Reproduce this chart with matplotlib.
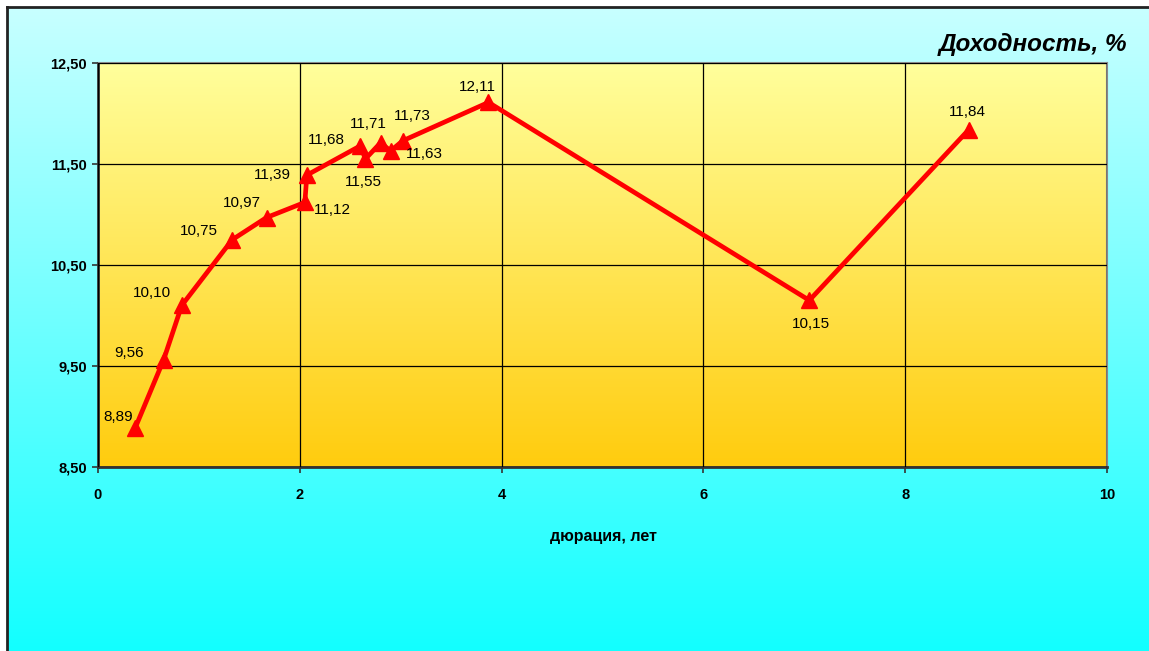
import numpy as np
import matplotlib
matplotlib.use("Agg")
import matplotlib.pyplot as plt
from matplotlib.ticker import FuncFormatter
from matplotlib.colors import LinearSegmentedColormap

# duration (years) and yield (%)
duration = [0.37, 0.65, 0.83, 1.33, 1.67, 2.05, 2.07, 2.60, 2.65, 2.80, 2.90, 3.02, 3.87, 7.05, 8.63]
yld = [8.89, 9.56, 10.10, 10.75, 10.97, 11.12, 11.39, 11.68, 11.55, 11.71, 11.63, 11.73, 12.11, 10.15, 11.84]
# label offsets in pixels (dx, dy) as placed on the original
label_off = [(-17, 11), (-35, 7), (-30, 12), (-33, 9), (-25, 15), (28, -8), (-34, 0),
             (-34, 6), (-2, -23), (-12, 19), (34, -3), (10, 25), (-11, 15), (2, -24), (-1, 18)]

plt.rcParams["font.family"] = ["Liberation Sans", "DejaVu Sans"]

W, H = 1149, 651
fig = plt.figure(figsize=(W / 100, H / 100), dpi=100)
fig.patch.set_facecolor("white")

# figure background gradient (light cyan -> cyan)
bg = fig.add_axes([7 / W, 0, 1 - 7 / W, 1 - 7 / H], zorder=-10)
cm_bg = LinearSegmentedColormap.from_list("bg", ["#c8ffff", "#12ffff"])
bg.imshow(np.linspace(0, 1, 256).reshape(-1, 1), aspect="auto", cmap=cm_bg,
          extent=[0, 1, 0, 1], origin="upper")
bg.set_xlim(0, 1)
bg.set_ylim(0, 1)
for s in ["right", "bottom"]:
    bg.spines[s].set_visible(False)
for s in ["left", "top"]:
    bg.spines[s].set_linewidth(2)
    bg.spines[s].set_color("#222222")
bg.set_xticks([])
bg.set_yticks([])

ax = fig.add_axes([98 / W, 1 - 467 / H, (1107 - 98) / W, (467 - 63) / H])
cm_ax = LinearSegmentedColormap.from_list("ax", ["#ffff9c", "#ffcc0e"])
ax.imshow(np.linspace(0, 1, 256).reshape(-1, 1), aspect="auto", cmap=cm_ax,
          extent=[0, 10, 8.5, 12.5], origin="upper", zorder=0)

ax.set_xlim(0, 10)
ax.set_ylim(8.5, 12.5)
ax.set_xticks(np.arange(0, 11, 2))
ax.set_yticks(np.arange(8.5, 12.6, 1.0))
ax.grid(True, color="black", linewidth=0.9, zorder=1)
ax.set_axisbelow(False)

ax.plot(duration, yld, color="#ff0000", linewidth=3.4, marker="^", markersize=11,
        zorder=3, solid_joinstyle="miter")

for x, y, (dx, dy) in zip(duration, yld, label_off):
    ax.annotate(f"{y:.2f}".replace(".", ","), (x, y), xytext=(dx, dy),
                textcoords="offset pixels", ha="center", va="center",
                fontsize=11, color="black", zorder=4)

fmt_y = FuncFormatter(lambda v, p: f"{v:.2f}".replace(".", ","))
ax.yaxis.set_major_formatter(fmt_y)
ax.xaxis.set_major_formatter(FuncFormatter(lambda v, p: f"{v:.0f}"))
ax.tick_params(axis="both", labelsize=10.5, length=4, width=1.2, color="#333333")
ax.tick_params(axis="x", pad=11)
ax.tick_params(axis="y", pad=4)
for lab in ax.get_xticklabels() + ax.get_yticklabels():
    lab.set_fontweight("bold")

for s in ["left", "bottom"]:
    ax.spines[s].set_linewidth(2)
    ax.spines[s].set_color("#333333")
for s in ["top", "right"]:
    ax.spines[s].set_linewidth(1.5)
    ax.spines[s].set_color("#888888")

fig.text(603 / W, 1 - 537 / H, "дюрация, лет", ha="center", va="center",
         fontsize=11.5, fontweight="bold")
fig.text(1127 / W, 1 - 45 / H, "Доходность, %", ha="right", va="center",
         fontsize=17.5, fontweight="bold", fontstyle="italic")

fig.savefig("out.png", dpi=100)
